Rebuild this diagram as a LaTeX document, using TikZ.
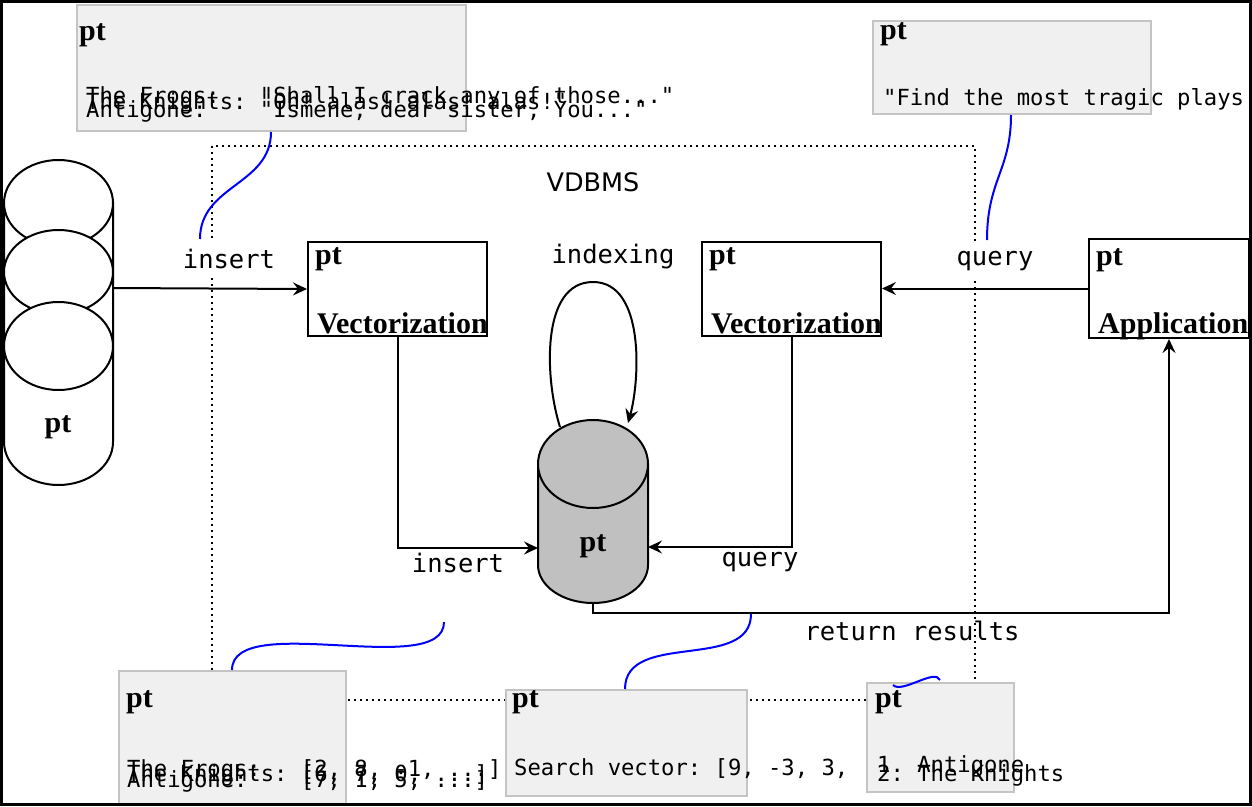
\documentclass[tikz,border=0pt]{standalone}
\usepackage{fontspec}
\setmainfont{Liberation Serif}
\setsansfont{DejaVu Sans}
\setmonofont{DejaVu Sans Mono}
\usetikzlibrary{arrows.meta}
\definecolor{notefill}{HTML}{F0F0F0}
\definecolor{noteline}{HTML}{C4C4C4}
\definecolor{dbfill}{HTML}{C0C0C0}
\newcommand\lblfont{\ttfamily\fontsize{25.5}{30}\selectfont}
\newcommand\notefont{\ttfamily\fontsize{22.2}{26}\selectfont}
\newcommand\ptfont{\rmfamily\bfseries\fontsize{30}{34}\selectfont}
\begin{document}
\begin{tikzpicture}[x=1pt,y=-1pt,
  blackbox/.style={draw, line width=2pt, fill=white, inner sep=0pt, anchor=north west},
  notebox/.style={draw=noteline, line width=2pt, fill=notefill, inner sep=0pt, anchor=north west},
  lbl/.style={font=\lblfont, inner sep=0pt, anchor=base},
  lblbg/.style={lbl, fill=white, inner xsep=2pt, inner ysep=10pt},
  ntxt/.style={font=\notefont, inner sep=0pt, anchor=base west},
  pttxt/.style={font=\ptfont, inner sep=0pt, anchor=base west},
  arr/.style={line width=2pt, -{Stealth[length=14pt,width=13pt,inset=5pt]}},
  link/.style={blue, line width=2pt},
  dots/.style={line width=2pt, dash pattern=on 2pt off 4pt},
  shapeline/.style={line width=2pt}
]
\useasboundingbox (0,0) rectangle (1252,806);
\fill[white] (0,0) rectangle (1252,806);

% VDBMS boundary
\draw[dots] (212,146) rectangle (975,700);
\node[font=\sffamily\fontsize{25.5}{30}\selectfont, inner sep=0pt, anchor=base] (vdbms) at (593,191) {VDBMS};

% left data store
\draw[shapeline, fill=white] (4,203) -- (4,442) arc[start angle=180, end angle=360, x radius=54.5pt, y radius=43pt] -- (113,203) -- cycle;
\draw[shapeline, fill=white] (58.5,203) ellipse[x radius=54.5pt, y radius=43pt];
\draw[shapeline, fill=white] (58.5,272) ellipse[x radius=54.5pt, y radius=42pt];
\draw[shapeline, fill=white] (58.5,346) ellipse[x radius=54.5pt, y radius=44pt];
\node[pttxt, anchor=base] (dspt) at (58,432) {pt};
\coordinate (dsout) at (113,288);

% central database
\draw[shapeline, fill=dbfill] (538,464) -- (538,565) arc[start angle=180, end angle=360, x radius=55pt, y radius=38pt] -- (648,464) -- cycle;
\draw[shapeline, fill=dbfill] (593,464) ellipse[x radius=55pt, y radius=44pt];
\node[minimum width=110pt, minimum height=183pt, inner sep=0pt] (db) at (593,511.5) {};
\node[pttxt, anchor=base] (dbpt) at (593,551) {pt};
\coordinate (dbin) at (538,548);
\coordinate (dbq) at (648,547);
\coordinate (loopa) at (560,427);
\coordinate (loopb) at (628,423);

% process boxes
\node[blackbox, minimum width=179pt, minimum height=94pt] (vec1) at (307,241) {};
\node[pttxt] at (315,264) {pt};
\node[pttxt] at (317,333) {Vectorization};
\node[blackbox, minimum width=179pt, minimum height=94pt] (vec2) at (701,241) {};
\node[pttxt] at (709,264) {pt};
\node[pttxt] at (711,333) {Vectorization};
\node[blackbox, minimum width=160pt, minimum height=99pt] (app) at (1088,238) {};
\node[pttxt] at (1096,265) {pt};
\node[pttxt] at (1098,333) {Application};

% labels
\node[lblbg] (linsert) at (229,268) {insert};
\node[lblbg] (lquery) at (995,265) {query};
\node[lbl] (lindex) at (613,263) {indexing};
\node[lbl] (linsert2) at (458,572) {insert};
\node[lbl] (lquery2) at (760,566) {query};
\node[lbl] (lreturn) at (912,640) {return results};

% connectors
\draw[arr] (dsout) -- (vec1.west);
\draw[arr] (app.west) -- (app.west -| vec2.east);
\draw[arr] (vec1.south) |- (dbin);
\draw[arr] (vec2.south) |- (dbq);
\draw[arr] (db.south) -- ++(0,10) -| (app.south);
\draw[arr] (loopa) .. controls (545,380) and (540,282) .. (593,282) .. controls (645,282) and (640,380) .. (loopb);

% note boxes
\node[notebox, minimum width=389pt, minimum height=126pt] (n1) at (76,4) {};
\node[pttxt] at (79,40) {pt};
\node[ntxt] at (86,103) {The Frogs:~~~"Shall I crack any of those..."};
\node[ntxt] at (86,109) {The Knights:~"Oh! alas! alas! alas!"};
\node[ntxt] at (86,117) {Antigone:~~~~"Ismene, dear sister, You..."};

\node[notebox, minimum width=278pt, minimum height=93pt] (n2) at (872,20) {};
\node[pttxt] at (880,39) {pt};
\node[ntxt] at (883,105) {"Find the most tragic plays..."};

\node[notebox, minimum width=227pt, minimum height=133pt] (n3) at (118,670) {};
\node[pttxt] at (126,707) {pt};
\node[ntxt] at (127,776) {The Frogs:~~~[2, 8, -1, ...]};
\node[ntxt] at (127,781) {The Knights:~[6, 7, 0, ...]};
\node[ntxt] at (127,787) {Antigone:~~~~[7, 1, 5, ...]};

\node[notebox, minimum width=241pt, minimum height=106pt] (n4) at (505,689) {};
\node[pttxt] at (512,707) {pt};
\node[ntxt] at (514,775) {Search vector: [9, -3, 3, ...]};

\node[notebox, minimum width=147pt, minimum height=109pt] (n5) at (866,682) {};
\node[pttxt] at (875,707) {pt};
\node[ntxt] at (877,772) {1. Antigone};
\node[ntxt] at (877,781) {2. The Knights};

% annotation links
\coordinate (a1) at (200,239);
\coordinate (a2) at (987,240);
\coordinate (a3) at (444,622);
\coordinate (a4) at (751,614);
\coordinate (a5) at (893,685);
\draw[link] (n1.south -| 271,0) .. controls (271,185) and (200,185) .. (a1);
\draw[link] (n2.south -| 1011,0) .. controls (1011,170) and (987,180) .. (a2);
\draw[link] (a3) .. controls (444,680) and (232,610) .. (n3.north -| 232,0);
\draw[link] (a4) .. controls (751,672) and (625,630) .. (n4.north -| 625,0);
\draw[link] (a5) .. controls (902,694) and (935,668) .. (940,680);

% frame
\draw[line width=3pt] (1.5,1.5) rectangle (1250.5,804.5);
\end{tikzpicture}
\end{document}
